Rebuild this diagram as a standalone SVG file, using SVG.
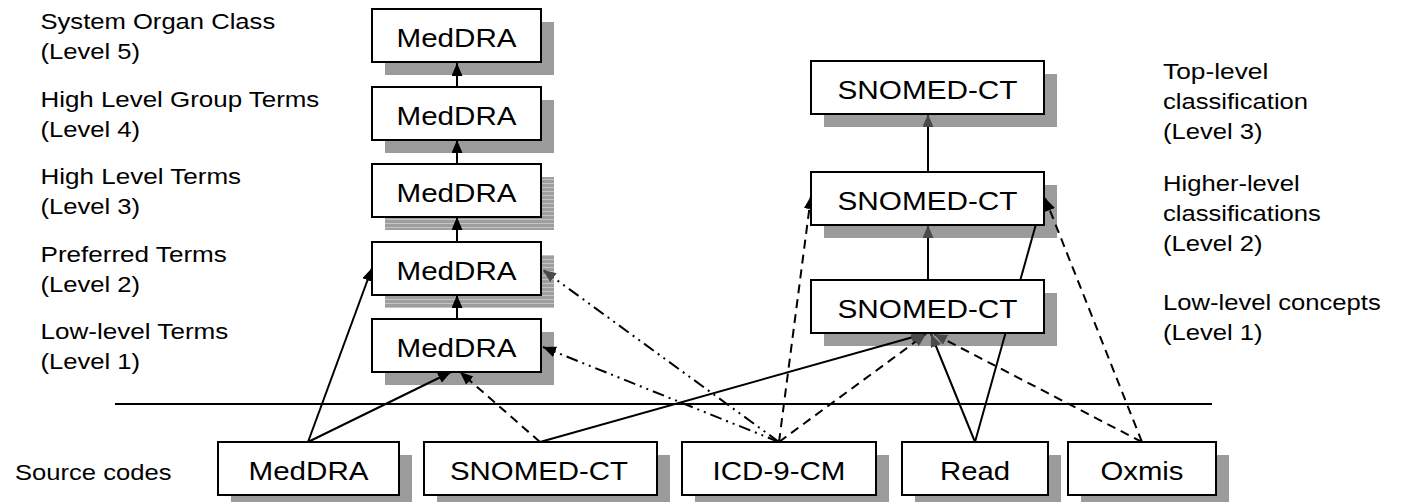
<svg xmlns="http://www.w3.org/2000/svg" width="1401" height="502" viewBox="0 0 1401 502">
<defs>
<style>
text{font-family:"Liberation Sans",Arial,sans-serif;fill:#000}
.lbl{font-size:22.5px}
.bt{font-size:25.8px;text-anchor:middle}
.box{fill:#fff;stroke:#000;stroke-width:2}
.sh{fill:#9b9b9b}
.shs{fill:url(#stripes)}
.c{fill:none;stroke:#000;stroke-width:2}
.dash{stroke-dasharray:9,6}
.dd{stroke-dasharray:12,5,2,5,2,5}
.ab{marker-end:url(#ab)}
.ag{marker-end:url(#ag)}
</style>
<pattern id="stripes" width="4" height="4" patternUnits="userSpaceOnUse">
<rect width="4" height="4" fill="#9e9e9e"/>
<rect y="3" width="4" height="1" fill="#c4c4c4"/>
</pattern>
<marker id="ab" markerUnits="userSpaceOnUse" markerWidth="14" markerHeight="12" refX="13" refY="5.5" orient="auto">
<path d="M0,0 L13,5.5 L0,11 z" fill="#000"/>
</marker>
<marker id="ag" markerUnits="userSpaceOnUse" markerWidth="14" markerHeight="12" refX="13" refY="5.5" orient="auto">
<path d="M0,0 L13,5.5 L0,11 z" fill="#4a4a4a"/>
</marker>
</defs>
<rect width="1401" height="502" fill="#fff"/>

<g id="labels">
<text class="lbl" x="40.5" y="29.3" textLength="234.7" lengthAdjust="spacingAndGlyphs">System Organ Class</text>
<text class="lbl" x="40.5" y="58.5" textLength="99.6" lengthAdjust="spacingAndGlyphs">(Level 5)</text>
<text class="lbl" x="40.5" y="107.3" textLength="278.8" lengthAdjust="spacingAndGlyphs">High Level Group Terms</text>
<text class="lbl" x="40.5" y="136.5" textLength="99.6" lengthAdjust="spacingAndGlyphs">(Level 4)</text>
<text class="lbl" x="40.5" y="184.3" textLength="200.6" lengthAdjust="spacingAndGlyphs">High Level Terms</text>
<text class="lbl" x="40.5" y="213.5" textLength="99.6" lengthAdjust="spacingAndGlyphs">(Level 3)</text>
<text class="lbl" x="40.5" y="262.3" textLength="186.3" lengthAdjust="spacingAndGlyphs">Preferred Terms</text>
<text class="lbl" x="40.5" y="291.5" textLength="99.6" lengthAdjust="spacingAndGlyphs">(Level 2)</text>
<text class="lbl" x="40.5" y="339.3" textLength="187.8" lengthAdjust="spacingAndGlyphs">Low-level Terms</text>
<text class="lbl" x="40.5" y="368.5" textLength="99.6" lengthAdjust="spacingAndGlyphs">(Level 1)</text>
<text class="lbl" x="1163" y="79" textLength="105.3" lengthAdjust="spacingAndGlyphs">Top-level</text>
<text class="lbl" x="1163" y="109" textLength="145.1" lengthAdjust="spacingAndGlyphs">classification</text>
<text class="lbl" x="1163" y="139" textLength="99.6" lengthAdjust="spacingAndGlyphs">(Level 3)</text>
<text class="lbl" x="1163" y="191" textLength="136.6" lengthAdjust="spacingAndGlyphs">Higher-level</text>
<text class="lbl" x="1163" y="221" textLength="157.9" lengthAdjust="spacingAndGlyphs">classifications</text>
<text class="lbl" x="1163" y="251" textLength="99.6" lengthAdjust="spacingAndGlyphs">(Level 2)</text>
<text class="lbl" x="1163" y="310" textLength="217.7" lengthAdjust="spacingAndGlyphs">Low-level concepts</text>
<text class="lbl" x="1163" y="340" textLength="99.6" lengthAdjust="spacingAndGlyphs">(Level 1)</text>
<text class="lbl" x="15" y="480" textLength="156.5" lengthAdjust="spacingAndGlyphs">Source codes</text>
</g>

<line id="divider" x1="115" y1="404" x2="1212" y2="404" stroke="#000" stroke-width="2"/>

<g id="shadows">
<rect class="sh" x="385" y="22" width="169" height="53"/>
<rect class="sh" x="385" y="100" width="169" height="53"/>
<rect class="shs" x="385" y="177" width="169" height="53"/>
<rect class="shs" x="385" y="255" width="169" height="53"/>
<rect class="sh" x="385" y="332" width="169" height="53"/>
<rect class="sh" x="824" y="74" width="233" height="53"/>
<rect class="sh" x="824" y="185" width="233" height="53"/>
<rect class="sh" x="824" y="293" width="233" height="53"/>
<rect class="sh" x="231" y="455" width="181" height="54"/>
<rect class="sh" x="437" y="455" width="233" height="54"/>
<rect class="sh" x="695" y="455" width="194" height="54"/>
<rect class="sh" x="915" y="455" width="146" height="54"/>
<rect class="sh" x="1081" y="455" width="148" height="54"/>
</g>

<g id="connectors">
<line class="c ab" x1="457" y1="87" x2="457" y2="63"/>
<line class="c ab" x1="457" y1="164" x2="457" y2="140"/>
<line class="c ab" x1="457" y1="242" x2="457" y2="217"/>
<line class="c ab" x1="457" y1="319" x2="457" y2="295"/>
<line class="c ag" x1="928" y1="172" x2="928" y2="114"/>
<line class="c ag" x1="928" y1="280" x2="928" y2="225"/>
<line class="c ab" x1="308" y1="442" x2="372" y2="268"/>
<line class="c ab" x1="308" y1="442" x2="451" y2="372"/>
<line class="c dash ab" x1="540" y1="442" x2="460" y2="372"/>
<line class="c ag" x1="540" y1="442" x2="924" y2="334"/>
<line class="c dd ag" x1="779" y1="442" x2="543" y2="270"/>
<line class="c dd ab" x1="779" y1="442" x2="543" y2="347"/>
<line class="c dash ab" x1="779" y1="442" x2="811" y2="196"/>
<line class="c dash ag" x1="779" y1="442" x2="926" y2="334"/>
<line class="c ag" x1="975" y1="442" x2="931" y2="334"/>
<line class="c ab" x1="975" y1="442" x2="1043" y2="199"/>
<line class="c dash ag" x1="1142" y1="442" x2="934" y2="334"/>
<line class="c dash ab" x1="1142" y1="442" x2="1045" y2="198"/>
</g>

<g id="meddra-l5"><rect class="box" x="372" y="9" width="169" height="53"/><text class="bt" x="456.5" y="47" textLength="120" lengthAdjust="spacingAndGlyphs">MedDRA</text></g>
<g id="meddra-l4"><rect class="box" x="372" y="87" width="169" height="53"/><text class="bt" x="456.5" y="125" textLength="120" lengthAdjust="spacingAndGlyphs">MedDRA</text></g>
<g id="meddra-l3"><rect class="box" x="372" y="164" width="169" height="53"/><text class="bt" x="456.5" y="202" textLength="120" lengthAdjust="spacingAndGlyphs">MedDRA</text></g>
<g id="meddra-l2"><rect class="box" x="372" y="242" width="169" height="53"/><text class="bt" x="456.5" y="280" textLength="120" lengthAdjust="spacingAndGlyphs">MedDRA</text></g>
<g id="meddra-l1"><rect class="box" x="372" y="319" width="169" height="53"/><text class="bt" x="456.5" y="357" textLength="120" lengthAdjust="spacingAndGlyphs">MedDRA</text></g>

<g id="snomed-l3"><rect class="box" x="811" y="61" width="233" height="53"/><text class="bt" x="927.5" y="99" textLength="180" lengthAdjust="spacingAndGlyphs">SNOMED-CT</text></g>
<g id="snomed-l2"><rect class="box" x="811" y="172" width="233" height="53"/><text class="bt" x="927.5" y="210" textLength="180" lengthAdjust="spacingAndGlyphs">SNOMED-CT</text></g>
<g id="snomed-l1"><rect class="box" x="811" y="280" width="233" height="53"/><text class="bt" x="927.5" y="318" textLength="180" lengthAdjust="spacingAndGlyphs">SNOMED-CT</text></g>

<g id="src-meddra"><rect class="box" x="218" y="442" width="181" height="53"/><text class="bt" x="308.5" y="480" textLength="120" lengthAdjust="spacingAndGlyphs">MedDRA</text></g>
<g id="src-snomed"><rect class="box" x="424" y="442" width="233" height="53"/><text class="bt" x="539" y="480" textLength="178" lengthAdjust="spacingAndGlyphs">SNOMED-CT</text></g>
<g id="src-icd"><rect class="box" x="682" y="442" width="194" height="53"/><text class="bt" x="779" y="480" textLength="133" lengthAdjust="spacingAndGlyphs">ICD-9-CM</text></g>
<g id="src-read"><rect class="box" x="902" y="442" width="146" height="53"/><text class="bt" x="975" y="480" textLength="70" lengthAdjust="spacingAndGlyphs">Read</text></g>
<g id="src-oxmis"><rect class="box" x="1068" y="442" width="148" height="53"/><text class="bt" x="1142" y="480" textLength="83" lengthAdjust="spacingAndGlyphs">Oxmis</text></g>
</svg>
